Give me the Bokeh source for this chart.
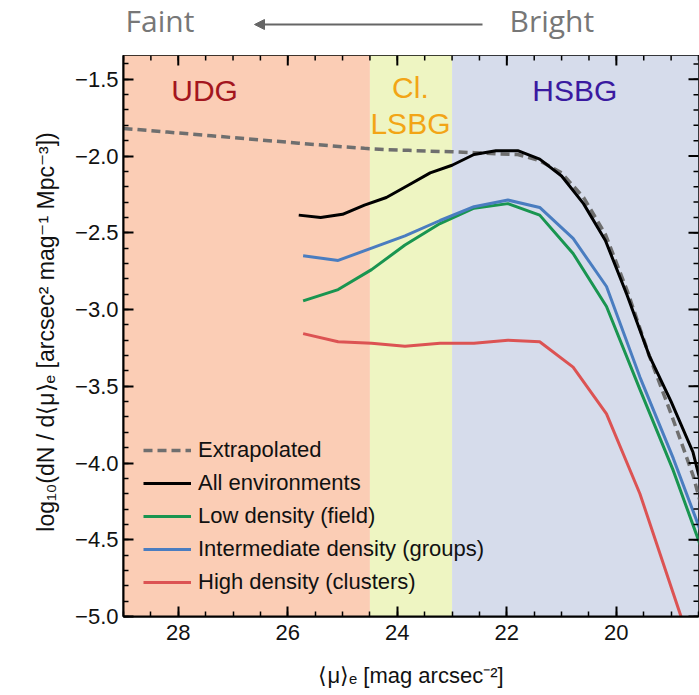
import numpy as np
from bokeh.plotting import figure
from bokeh.models import (Range1d, BoxAnnotation, Legend, LegendItem,
                          Label, Arrow, NormalHead, FixedTicker, CustomJSTickFormatter)
from bokeh.layouts import column
from bokeh.embed import file_html
from bokeh.resources import INLINE
from bokeh.core.properties import value

# ---------------- data ----------------
all_mu = [25.8, 25.4, 25.0, 24.6, 24.2, 23.8, 23.4, 23.0, 22.6, 22.2, 21.8, 21.4,
          21.0, 20.6, 20.2, 19.8, 19.4, 19.0, 18.6, 18.2]
all_env = [-2.385, -2.40, -2.38, -2.32, -2.27, -2.19, -2.11, -2.06, -1.99, -1.965,
           -1.965, -2.02, -2.13, -2.31, -2.55, -2.91, -3.30, -3.60, -3.93, -4.50]

ext_mu = [29.0, 28.2, 27.4, 26.6, 25.8, 25.0, 24.6, 24.2, 23.8, 23.4, 23.0, 22.6,
          22.2, 21.8, 21.4, 21.0, 20.6, 20.2, 19.8, 19.4, 19.0, 18.6, 18.2]
extrap = [-1.82, -1.844, -1.868, -1.892, -1.916, -1.94, -1.95, -1.958, -1.963, -1.968,
          -1.972, -1.978, -1.985, -1.99, -2.03, -2.11, -2.27, -2.51, -2.88, -3.30,
          -3.68, -4.08, -4.60]

env_mu = [25.72, 25.08, 24.47, 23.86, 23.22, 22.6, 21.98, 21.40, 20.79, 20.18,
          19.57, 18.96, 18.35]
low_density = [-2.944, -2.87, -2.74, -2.58, -2.44, -2.34, -2.31, -2.385, -2.635,
               -2.98, -3.52, -4.05, -4.65]
mid_density = [-2.65, -2.68, -2.60, -2.52, -2.42, -2.33, -2.287, -2.335, -2.537,
               -2.85, -3.44, -3.97, -4.55]
high_density = [-3.157, -3.21, -3.22, -3.24, -3.22, -3.22, -3.20, -3.21, -3.375,
                -3.68, -4.20, -4.85, -5.50]

band_left = [29.0, 24.5, 23.0]
band_right = [24.5, 23.0, 18.5]
band_names = ["UDG", "Cl.\nLSBG", "HSBG"]

x_major = [28, 26, 24, 22, 20]
x_minor = [float(v) for v in np.arange(18.5, 29.01, 0.5)]
y_major = [-5.0, -4.5, -4.0, -3.5, -3.0, -2.5, -2.0, -1.5]
y_minor = [float(v) for v in np.round(np.arange(-5.0, -1.3, 0.1), 2)]

X_LO, X_HI = 29.0, 18.5
Y_LO, Y_HI = -5.0, -1.345

# ---------------- styles ----------------
band_fill = ["#FBCDB5", "#EEF5C2", "#D6DCEB"]
band_text_color = ["#A3161E", "#F2A516", "#3A1AA0"]
band_text_pos = [(27.52, -1.575), (23.76, -1.67), (20.76, -1.575)]
FONT = "Liberation Sans"

# ---------------- header ----------------
# header frame is aligned with the main plot frame (pixels 123..698)
hdr = figure(width=699, height=55, x_range=Range1d(123, 698), y_range=Range1d(0, 55),
             output_backend="svg", toolbar_location=None,
             min_border=0, outline_line_color=None)
hdr.grid.visible = False
hdr.xaxis.visible = False
hdr.yaxis.visible = False
hdr.add_layout(Label(x=125, y=35.5, text="Faint", text_font="Open Sans",
                     text_font_size="30px", text_color="#777777",
                     text_baseline="middle"))
hdr.add_layout(Label(x=509, y=35.5, text="Bright", text_font="Open Sans",
                     text_font_size="30px", text_color="#777777",
                     text_baseline="middle"))
hdr.add_layout(Arrow(end=NormalHead(size=10, line_color="#666666", fill_color="#666666",
                                    line_width=1),
                     x_start=482, y_start=31, x_end=254, y_end=31,
                     line_color="#666666", line_width=1.8))

# ---------------- main plot ----------------
p = figure(width=699, height=640, x_range=Range1d(X_LO, X_HI),
           y_range=Range1d(Y_LO, Y_HI), output_backend="svg",
           toolbar_location=None, min_border_left=123, min_border_right=1,
           min_border_top=0, min_border_bottom=79,
           outline_line_color="black", outline_line_width=2)
p.grid.visible = False

for l, r, c in zip(band_left, band_right, band_fill):
    p.add_layout(BoxAnnotation(left=l, right=r, fill_color=c, fill_alpha=1.0,
                               line_alpha=0, level="underlay"))

for name, col, (tx, ty) in zip(band_names, band_text_color, band_text_pos):
    p.text(x=[tx], y=[ty], text=[name], text_color=col, text_font=value(FONT),
           text_font_size="30px", text_align="center", text_baseline="middle",
           text_line_height=1.1)

r_ext = p.line(ext_mu, extrap, line_color="#6f6f6f", line_width=3.5, line_dash="9 5")
r_all = p.line(all_mu, all_env, line_color="black", line_width=3)
r_low = p.line(env_mu, low_density, line_color="#199550", line_width=3)
r_mid = p.line(env_mu, mid_density, line_color="#4A7DC0", line_width=3)
r_high = p.line(env_mu, high_density, line_color="#DC5353", line_width=3)

legend = Legend(items=[
    LegendItem(label="Extrapolated", renderers=[r_ext]),
    LegendItem(label="All environments", renderers=[r_all]),
    LegendItem(label="Low density (field)", renderers=[r_low]),
    LegendItem(label="Intermediate density (groups)", renderers=[r_mid]),
    LegendItem(label="High density (clusters)", renderers=[r_high]),
], location=(20, 21), background_fill_alpha=0, border_line_alpha=0,
    label_text_font=FONT, label_text_font_size="22px", label_text_color="#111111",
    glyph_width=48, glyph_height=20, label_height=20, spacing=7, padding=0,
    margin=0, label_standoff=7)
p.add_layout(legend)

# mirrored inward ticks on the top and right edges
p.ray(x=x_major, y=[Y_HI] * len(x_major), length=10, length_units="screen",
      angle=-np.pi / 2, line_color="black", line_width=2)
p.ray(x=x_minor, y=[Y_HI] * len(x_minor), length=5, length_units="screen",
      angle=-np.pi / 2, line_color="black", line_width=1.5)
p.ray(x=[X_HI] * len(y_major), y=y_major, length=10, length_units="screen",
      angle=np.pi, line_color="black", line_width=2)
p.ray(x=[X_HI] * len(y_minor), y=y_minor, length=5, length_units="screen",
      angle=np.pi, line_color="black", line_width=1.5)

xt = FixedTicker(ticks=x_major, minor_ticks=x_minor)
yt = FixedTicker(ticks=y_major, minor_ticks=y_minor)
yfmt = CustomJSTickFormatter(code="return (tick < 0 ? '\u2212' : '') + Math.abs(tick).toFixed(1);")

for ax in (p.xaxis[0], p.yaxis[0]):
    ax.axis_line_width = 2
    ax.axis_line_color = "black"
    ax.major_tick_in = 10
    ax.major_tick_out = 0
    ax.minor_tick_in = 5
    ax.minor_tick_out = 0
    ax.major_tick_line_width = 2
    ax.minor_tick_line_width = 1.5
    ax.major_tick_line_color = "black"
    ax.minor_tick_line_color = "black"
    ax.major_label_text_font = FONT
    ax.major_label_text_font_size = "22px"
    ax.major_label_text_color = "#111111"
    ax.axis_label_text_font = FONT
    ax.axis_label_text_font_size = "22px"
    ax.axis_label_text_font_style = "normal"
    ax.axis_label_text_color = "#111111"

p.xaxis.ticker = xt
p.yaxis.ticker = yt
p.yaxis.formatter = yfmt
p.xaxis.axis_label = "\u27e8\u03bc\u27e9\u2091 [mag arcsec\u207b\u00b2]"
p.yaxis.axis_label = "log\u2081\u2080(dN / d\u27e8\u03bc\u27e9\u2091 [arcsec\u00b2 mag\u207b\u00b9 Mpc\u207b\u00b3])"
p.yaxis.axis_label_text_font_size = "23px"
p.xaxis.major_label_standoff = 8
p.xaxis.axis_label_standoff = 20
p.yaxis.major_label_standoff = 5
p.yaxis.axis_label_standoff = 13

layout = column(hdr, p, spacing=0)
open("out.html", "w").write(file_html(layout, INLINE))
